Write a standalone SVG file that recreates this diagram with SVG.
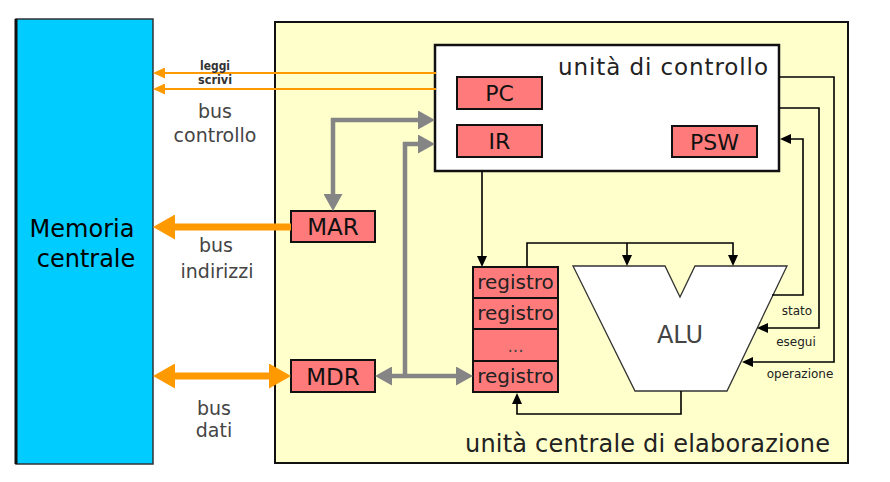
<svg xmlns="http://www.w3.org/2000/svg" width="890" height="482" viewBox="0 0 890 482">
<defs>
<style>
text{font-family:"DejaVu Sans","Liberation Sans",sans-serif;}
.reg{fill:#FF7B7B;stroke:#111;stroke-width:2}
.rt{font-size:20px;fill:#222;text-anchor:middle}
.bt{font-size:22px;fill:#111;text-anchor:middle}
.bus{font-size:19px;fill:#444;text-anchor:middle}
.sm{font-size:12px;fill:#222;text-anchor:middle}
.tiny{font-size:12.5px;font-weight:bold;fill:#333}
.gray{fill:none;stroke:#858585;stroke-width:4.5}
.ot{fill:none;stroke:#FF9900;stroke-width:2}
.oT{fill:none;stroke:#FF9900;stroke-width:7}
.blk{fill:none;stroke:#000;stroke-width:1.6}
</style>
<marker id="ab" markerUnits="userSpaceOnUse" markerWidth="11" markerHeight="10" refX="0" refY="5" orient="auto-start-reverse"><path d="M0,0 L11,5 L0,10 z" fill="#000"/></marker>
<marker id="ag" markerUnits="userSpaceOnUse" markerWidth="17" markerHeight="19" refX="0" refY="9.5" orient="auto-start-reverse"><path d="M0,0 L17,9.5 L0,19 z" fill="#858585"/></marker>
<marker id="ao" markerUnits="userSpaceOnUse" markerWidth="12" markerHeight="11" refX="0" refY="5.5" orient="auto-start-reverse"><path d="M0,0 L12,5.5 L0,11 z" fill="#FF9900"/></marker>
<marker id="aO" markerUnits="userSpaceOnUse" markerWidth="22" markerHeight="25" refX="0" refY="12.5" orient="auto-start-reverse"><path d="M0,0 L22,12.5 L0,25 z" fill="#FF9900"/></marker>
</defs>
<rect x="0" y="0" width="890" height="482" fill="#fff"/>

<g id="memoria">
<rect x="16" y="19" width="137" height="445" fill="#00CCFF" stroke="#333" stroke-width="1.5"/>
<line x1="16" y1="19" x2="16" y2="464" stroke="#111" stroke-width="3"/>
<text x="82" y="237" style="font-size:24px;fill:#000;text-anchor:middle">Memoria</text>
<text x="86" y="267" style="font-size:24px;fill:#000;text-anchor:middle">centrale</text>
</g>

<g id="cpu">
<rect x="275" y="22" width="573" height="441" fill="#FFFFCC" stroke="#111" stroke-width="2"/>
<text x="465" y="452" style="font-size:24px;fill:#222" textLength="365">unità centrale di elaborazione</text>
</g>

<g id="controllo">
<rect x="435" y="45" width="344" height="126" fill="#fff" stroke="#111" stroke-width="2.5"/>
<text x="768" y="75" style="font-size:23px;fill:#222;text-anchor:end" textLength="210">unità di controllo</text>
</g>
<g id="pc"><rect class="reg" x="457" y="77" width="85" height="32"/><text class="bt" x="499.5" y="101">PC</text></g>
<g id="ir"><rect class="reg" x="457" y="125" width="85" height="32"/><text class="bt" x="499.5" y="149">IR</text></g>
<g id="psw"><rect class="reg" x="672" y="126" width="85" height="31"/><text class="bt" x="714.5" y="149.5">PSW</text></g>
<g id="mar"><rect class="reg" x="291" y="211" width="84" height="31"/><text class="bt" x="333" y="235" style="font-size:23px">MAR</text></g>
<g id="mdr"><rect class="reg" x="291" y="360" width="84" height="32"/><text class="bt" x="333" y="384.5" style="font-size:23px">MDR</text></g>

<g id="registri">
<rect class="reg" x="473" y="267" width="85" height="31"/>
<rect class="reg" x="473" y="298" width="85" height="31"/>
<rect class="reg" x="473" y="329" width="85" height="32"/>
<rect class="reg" x="473" y="361" width="85" height="31"/>
<text class="rt" x="515.5" y="289">registro</text>
<text class="rt" x="515.5" y="320">registro</text>
<text class="rt" x="515.5" y="352" style="font-size:17px;fill:#444">...</text>
<text class="rt" x="515.5" y="383">registro</text>
</g>

<g id="alu">
<polygon points="573,266 665,266 680,297 695,266 787,266 727,391 635,391" fill="#fff" stroke="#333" stroke-width="1.3"/>
<text x="680" y="343" style="font-size:24px;fill:#444;text-anchor:middle">ALU</text>
</g>

<g id="connectors">
<path class="gray" d="M333,194 V120 H418" marker-start="url(#ag)" marker-end="url(#ag)"/>
<path class="gray" d="M418,144 H405 V376" marker-start="url(#ag)"/>
<path class="gray" d="M392,376 H456" marker-start="url(#ag)" marker-end="url(#ag)"/>
<path class="ot" d="M436,73 H165" marker-end="url(#ao)"/>
<path class="ot" d="M436,89 H165" marker-end="url(#ao)"/>
<path class="oT" d="M291,227 H175" marker-end="url(#aO)"/>
<path class="oT" d="M175,376 H269" marker-start="url(#aO)" marker-end="url(#aO)"/>
<path class="blk" d="M482,171 V256" marker-end="url(#ab)"/>
<path class="blk" d="M527,267 V243 H733 V255" marker-end="url(#ab)"/>
<path class="blk" d="M627,243 V255" marker-end="url(#ab)"/>
<path class="blk" d="M681,391 V414 H517 V404" marker-end="url(#ab)"/>
<path class="blk" d="M779,77 H834 V362 H753" marker-end="url(#ab)"/>
<path class="blk" d="M779,108 H819 V328 H768" marker-end="url(#ab)"/>
<path class="blk" d="M772,295 H803 V139 H791" marker-end="url(#ab)"/>
</g>

<g id="labels">
<text class="tiny" x="200" y="70" textLength="30" lengthAdjust="spacingAndGlyphs">leggi</text>
<text class="tiny" x="198" y="84" textLength="34" lengthAdjust="spacingAndGlyphs">scrivi</text>
<text class="bus" x="215" y="118">bus</text>
<text class="bus" x="215" y="142">controllo</text>
<text class="bus" x="216" y="252">bus</text>
<text class="bus" x="217" y="278">indirizzi</text>
<text class="bus" x="214" y="415">bus</text>
<text class="bus" x="214" y="437">dati</text>
<text class="sm" x="797" y="315">stato</text>
<text class="sm" x="796" y="346">esegui</text>
<text class="sm" x="800" y="378">operazione</text>
</g>
</svg>
